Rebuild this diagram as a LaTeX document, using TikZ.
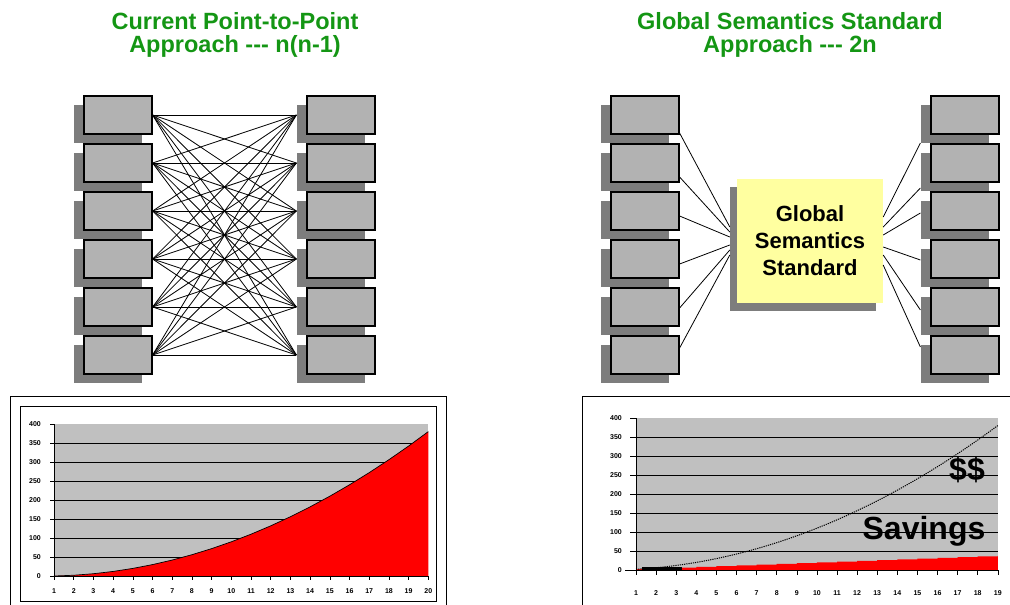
\documentclass[tikz,border=0pt]{standalone}
\usepackage{fontspec}
\setmainfont{Liberation Sans}
\usetikzlibrary{shadows,calc}
\definecolor{titlegreen}{RGB}{20,150,20}
\definecolor{boxgray}{RGB}{178,178,178}
\definecolor{shadegray}{RGB}{125,125,125}
\definecolor{plotgray}{RGB}{192,192,192}
\definecolor{notepad}{RGB}{255,255,160}
\tikzset{
  sysbox/.style={draw=black, line width=1.2pt, fill=boxgray, minimum width=68pt, minimum height=38pt, inner sep=0pt,
    drop shadow={shadow xshift=-10pt, shadow yshift=-9pt, fill=shadegray, opacity=1}},
  gssbox/.style={fill=notepad, minimum width=146pt, minimum height=124pt, inner sep=0pt, align=center,
    font=\fontsize{22}{27}\selectfont\bfseries,
    drop shadow={shadow xshift=-7pt, shadow yshift=-8pt, fill=shadegray, opacity=1}},
  link/.style={line width=0.8pt},
  heading/.style={text=titlegreen, align=center, inner sep=0pt, anchor=north, font=\fontsize{23.5}{23}\selectfont\bfseries},
  grid line/.style={line width=0.9pt},
  ticklabel/.style={inner sep=0pt, font=\fontsize{7}{8}\selectfont\bfseries},
  bigword/.style={inner sep=0pt, anchor=base, font=\fontsize{32}{36}\selectfont\bfseries}
}
\begin{document}
\begin{tikzpicture}
[x=1pt, y=-1pt]
\useasboundingbox (0,0) rectangle (1010,605);
\clip (0,0) rectangle (1010,605);
\node [heading] (t1) at (235,12) {Current Point-to-Point\\Approach -{}-{}- n(n-1)};
\node [heading] (t2) at (790,12) {Global Semantics Standard\\Approach -{}-{}- 2n};
\foreach \k in {1,...,6} {
  \node [sysbox] (pl\k) at (118,{67+48*\k}) {};
  \node [sysbox] (pr\k) at (341,{67+48*\k}) {};
  \node [sysbox] (gl\k) at (645,{67+48*\k}) {};
  \node [sysbox] (gr\k) at (965,{67+48*\k}) {};
}
\foreach \i in {1,...,6}
  \foreach \j in {1,...,6}
    \draw [link] (pl\i.east) -- ($(pr\j.west)+(-10,0)$);
\node [gssbox] (gss) at (810,241) {Global\\Semantics\\Standard};
\foreach \k/\a/\b in {1/18/-14, 2/14/-9, 3/5/-4, 4/5/4, 5/1/9, 6/-7/14}
  \draw [link] ($(gl\k.east)+(0,\a)$) -- ($(gss.west)+(-7,\b)$);
\foreach \k/\a/\b in {1/-24/28, 2/-14/25, 3/-6/2, 4/6/1, 5/14/3, 6/24/-8}
  \draw [link] ($(gss.east)+(0,\a)$) -- ($(gr\k.west)+(-10,\b)$);
\draw [line width=0.9pt] (10,396) rectangle (446,615);
\draw [line width=0.9pt] (20,406) rectangle (436,601);
\begin{scope}[shift={(54,576)}, x=19.7pt, y=0.38pt]
\fill [plotgray] (0,0) rectangle (19,400);
\foreach \v in {50,100,...,350} \draw [grid line] (0,\v) -- (19,\v);
\fill [red] (0,0) -- plot [domain=0:19, samples=20] (\x,{\x*(\x+1)}) -- (19,0) -- cycle;
\draw [line width=0.7pt] plot [domain=0:19, samples=20] (\x,{\x*(\x+1)});
\draw [line width=0.9pt] (0,400) -- (0,0) -- (19,0);
\foreach \v in {0,50,...,400} {
  \draw [line width=0.6pt] (0,\v) -- ++(-4pt,0);
  \node [ticklabel, left=13pt] (ay\v) at (0,\v) {\v};
}
\foreach \n in {1,...,20} {
  \draw [line width=0.6pt] (\n-1,0) -- ++(0,-4pt);
  \node [ticklabel, below=12pt] (ax\n) at (\n-1,0) {\n};
}
\end{scope}
\draw [line width=0.9pt] (582,396) rectangle (1020,620);
\begin{scope}[shift={(636,570)}, x=20.1pt, y=0.38pt]
\fill [plotgray] (0,0) rectangle (18,400);
\foreach \v in {50,100,...,350} \draw [grid line] (0,\v) -- (18,\v);
\fill [red] (0,0) -- plot [const plot, domain=0:18, samples=19] (\x,{2*(\x+1)}) -- (18,0) -- cycle;
\fill [black] (0.3,0) rectangle (2.3,9);
\draw [line width=1pt, dash pattern=on 1.2pt off 1pt] plot [smooth, domain=0:18, samples=19] (\x,{(\x+1)*(\x+2)});
\draw [line width=0.9pt] (0,400) -- (0,0) -- (18,0);
\foreach \v in {0,50,...,400} {
  \draw [line width=0.6pt] (0,\v) -- ++(-6pt,0);
  \node [ticklabel, left=14pt] (by\v) at (0,\v) {\v};
}
\draw [line width=0.6pt] (0,0) -- ++(-11pt,0);
\foreach \n in {1,...,19} {
  \draw [line width=0.6pt] (\n-1,0) -- ++(0,-5pt);
  \node [ticklabel, below=20pt] (bx\n) at (\n-1,0) {\n};
}
\end{scope}
\node [bigword] (cash) at (967,480) {\$\$};
\node [bigword] (save) at (924,539) {Savings};
\end{tikzpicture}
\end{document}
